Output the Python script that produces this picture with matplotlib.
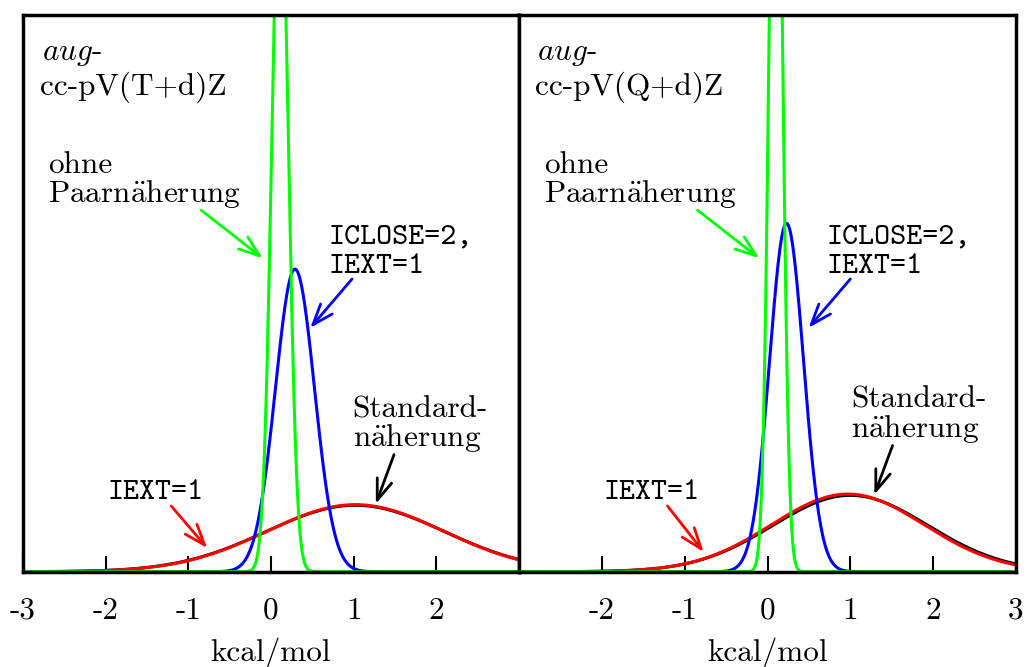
import numpy as np
import matplotlib
matplotlib.use("Agg")
import matplotlib.pyplot as plt
from matplotlib.transforms import blended_transform_factory

plt.rcParams["mathtext.fontset"] = "cm"
plt.rcParams["font.family"] = "cmr10"
plt.rcParams["axes.unicode_minus"] = False

# Gaussian error distributions (mean, sigma), kcal/mol
series_names = ["Standardnäherung", "IEXT=1", "ICLOSE=2, IEXT=1", "ohne Paarnäherung"]
series_colors = ["black", "#ff0000", "#0000ff", "#00ff00"]

means_tz = [1.02, 1.02, 0.29, 0.11]
sigmas_tz = [1.075, 1.065, 0.236, 0.100]

means_qz = [1.00, 0.97, 0.23, 0.10]
sigmas_qz = [0.935, 0.920, 0.205, 0.078]

ticks_left = [-3, -2, -1, 0, 1, 2]
ticks_right = [-2, -1, 0, 1, 2, 3]

basis_left = ["$aug$-", "cc-pV(T+d)Z"]
basis_right = ["$aug$-", "cc-pV(Q+d)Z"]

X_MIN, X_MAX = -3.0, 3.0
Y_MAX = 3.113

SERIF = 22.5
MONO = 22
TICK = 22.5

W, H = 1028.0, 667.0


def density(x, mu, sigma):
    return np.exp(-0.5 * ((x - mu) / sigma) ** 2) / (sigma * np.sqrt(2 * np.pi))


def arrow(ax, tail, tip, color):
    ax.annotate(
        "",
        xy=tip,
        xytext=tail,
        arrowprops=dict(
            arrowstyle="->,head_length=1.5,head_width=0.55",
            color=color,
            lw=2.0,
            shrinkA=0,
            shrinkB=0,
            mutation_scale=10,
        ),
    )


def draw_panel(ax, means, sigmas, ticks, basis, lab):
    x = np.linspace(X_MIN, X_MAX, 1200)
    for mu, sg, col in zip(means, sigmas, series_colors):
        ax.plot(x, density(x, mu, sg), color=col, lw=2.2, zorder=2)

    ax.set_xlim(X_MIN, X_MAX)
    ax.set_ylim(0, Y_MAX)
    ax.set_yticks([])
    ax.set_xticks(ticks)
    ax.set_xticklabels([str(t) for t in ticks], fontsize=TICK)
    ax.tick_params(axis="x", direction="in", length=11.5, width=1.5, pad=18)
    for s in ax.spines.values():
        s.set_linewidth(2.5)
        s.set_zorder(5)

    # axis title, placed by baseline in figure pixels
    tr = blended_transform_factory(ax.transData, fig.transFigure)
    ax.text(0, (H - 661) / H, "kcal/mol", fontsize=SERIF, ha="center",
            va="baseline", transform=tr)

    # basis set label
    ax.text(lab["bx"], 2.859, basis[0], fontsize=SERIF, va="baseline")
    ax.text(lab["bx"] - 0.02, 2.663, basis[1], fontsize=SERIF, va="baseline")

    # ohne Paarnäherung (green)
    ax.text(lab["ox"], 2.227, "ohne", fontsize=SERIF, va="baseline")
    ax.text(lab["ox"], 2.065, r"Paarn$\ddot{\mathrm{a}}$herung", fontsize=SERIF, va="baseline")
    arrow(ax, (-0.845, 2.02), (-0.10, 1.751), series_colors[3])

    # ICLOSE=2, IEXT=1 (blue)
    ax.text(lab["ix"], 1.836, "ICLOSE=2,", fontsize=MONO, family="cmtt10", va="baseline")
    ax.text(lab["ix"], 1.669, "IEXT=1", fontsize=MONO, family="cmtt10", va="baseline")
    arrow(ax, (lab["ix"] + 0.28, 1.635), (lab["ix"] - 0.225, 1.362), series_colors[2])

    # Standardnäherung (black)
    ax.text(lab["sx"], lab["sy"], "Standard-", fontsize=SERIF, va="baseline")
    ax.text(lab["sx"], lab["sy"] - 0.160, r"n$\ddot{\mathrm{a}}$herung", fontsize=SERIF, va="baseline")
    arrow(ax, (lab["sx"] + 0.5, lab["sy"] - 0.21), (lab["sx"] + 0.28, lab["sy"] - 0.485), "black")

    # IEXT=1 (red)
    ax.text(-1.98, 0.406, "IEXT=1", fontsize=MONO, family="cmtt10", va="baseline")
    arrow(ax, (-1.207, 0.367), (-0.771, lab["ry"]), series_colors[1])


fig = plt.figure(figsize=(10.28, 6.67), dpi=100)
bottom = (H - 571.7) / H
height = 557.2 / H
ax1 = fig.add_axes([23 / W, bottom, 496 / W, height])
ax2 = fig.add_axes([519 / W, bottom, 497 / W, height])

draw_panel(ax1, means_tz, sigmas_tz, ticks_left, basis_left,
           dict(bx=-2.77, ox=-2.70, ix=0.70, sx=0.988, sy=0.864, ry=0.132))
draw_panel(ax2, means_qz, sigmas_qz, ticks_right, basis_right,
           dict(bx=-2.785, ox=-2.70, ix=0.72, sx=1.01, sy=0.915, ry=0.110))

fig.savefig("out.png", dpi=100)
